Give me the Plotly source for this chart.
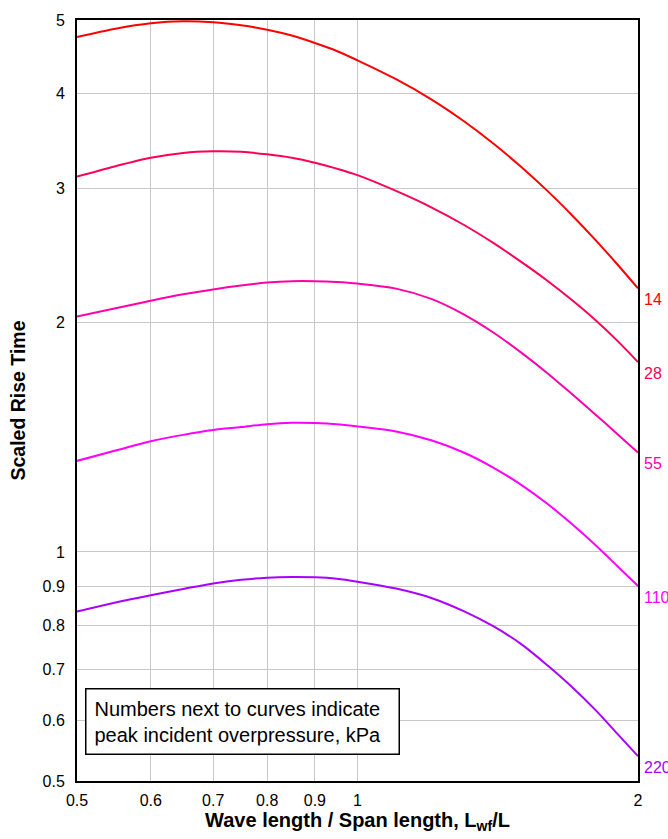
import plotly.graph_objects as go
import math

# Wave length / span length ratio at which each curve is sampled
ratio = [0.5, 0.55, 0.6, 0.65, 0.7, 0.75, 0.8, 0.85, 0.9, 0.95, 1.0,
         1.1, 1.2, 1.3, 1.4, 1.5, 1.6, 1.7, 1.8, 1.9, 2.0]

# Scaled rise time for each peak incident overpressure (kPa)
rise_14 = [4.75, 4.87, 4.95, 4.98, 4.965, 4.92, 4.855, 4.77, 4.664, 4.553, 4.426,
           4.18, 3.933, 3.683, 3.438, 3.202, 2.979, 2.768, 2.571, 2.388, 2.22]
rise_28 = [3.113, 3.213, 3.295, 3.344, 3.36, 3.355, 3.33, 3.295, 3.246, 3.189, 3.127,
           2.981, 2.837, 2.691, 2.545, 2.403, 2.27, 2.141, 2.017, 1.895, 1.776]
rise_55 = [2.038, 2.09, 2.138, 2.18, 2.213, 2.239, 2.259, 2.269, 2.269, 2.263, 2.252,
           2.218, 2.15, 2.052, 1.941, 1.826, 1.716, 1.611, 1.516, 1.429, 1.351]
rise_110 = [1.317, 1.359, 1.398, 1.425, 1.446, 1.459, 1.472, 1.478, 1.477, 1.472, 1.462,
            1.44, 1.402, 1.351, 1.29, 1.224, 1.156, 1.087, 1.021, 0.9585, 0.902]
rise_220 = [0.835, 0.858, 0.877, 0.894, 0.909, 0.919, 0.925, 0.927, 0.926, 0.922, 0.914,
            0.895, 0.870, 0.836, 0.798, 0.756, 0.709, 0.664, 0.620, 0.577, 0.539]

pressures = ["14", "28", "55", "110", "220"]
series = [rise_14, rise_28, rise_55, rise_110, rise_220]
colors = ["#FF0000", "#FF0055", "#FF00AA", "#FF00FF", "#AA00FF"]

x_ticks = [0.5, 0.6, 0.7, 0.8, 0.9, 1, 2]
y_ticks = [0.5, 0.6, 0.7, 0.8, 0.9, 1, 2, 3, 4, 5]

FONT = "Arial, Liberation Sans, sans-serif"

fig = go.Figure()
annotations = []
for name, vals, col in zip(pressures, series, colors):
    fig.add_trace(go.Scatter(
        x=ratio, y=vals, mode="lines", name=name,
        line=dict(color=col, width=2, shape="spline", smoothing=0.9),
        showlegend=False, hoverinfo="x+y",
    ))
    # pressure label just right of the curve's end point
    annotations.append(dict(
        xref="paper", x=1, xanchor="left", xshift=4,
        yref="y", y=math.log10(vals[-1]), yanchor="top", yshift=-1,
        text=name, showarrow=False,
        font=dict(family=FONT, size=16, color=col),
    ))

annotations.append(dict(
    xref="paper", yref="paper", x=0.0143, y=0.1217,
    xanchor="left", yanchor="top", align="left", width=296,
    text="Numbers next to curves indicate<br>peak incident overpressure, kPa",
    showarrow=False, bgcolor="white", bordercolor="black", borderwidth=1.5,
    borderpad=8, font=dict(family=FONT, size=20, color="black"),
))

axis_common = dict(
    type="log", showgrid=True, gridcolor="#C8C8C8", gridwidth=1,
    showline=True, linecolor="black", linewidth=2, mirror=True,
    ticks="", zeroline=False,
    tickfont=dict(family=FONT, size=16, color="black"),
)

fig.update_layout(
    width=668, height=839,
    margin=dict(l=77, r=30, t=17, b=58),
    paper_bgcolor="white", plot_bgcolor="white",
    xaxis=dict(
        **axis_common,
        range=[math.log10(0.5), math.log10(2)],
        tickvals=x_ticks, ticktext=[f"{v:g}" for v in x_ticks],
        ticklabelstandoff=4,
        title=dict(text="<b>Wave length / Span length, L<sub>wf</sub>/L</b>",
                   font=dict(family=FONT, size=20, color="black"), standoff=2),
    ),
    yaxis=dict(
        **axis_common,
        range=[math.log10(0.5), math.log10(5)],
        tickvals=y_ticks, ticktext=[f"{v:g}" for v in y_ticks],
        ticklabelstandoff=7,
        title=dict(text="<b>Scaled Rise Time</b>",
                   font=dict(family=FONT, size=19.5, color="black"), standoff=12),
    ),
    annotations=annotations,
)

fig.write_html("out.html")
